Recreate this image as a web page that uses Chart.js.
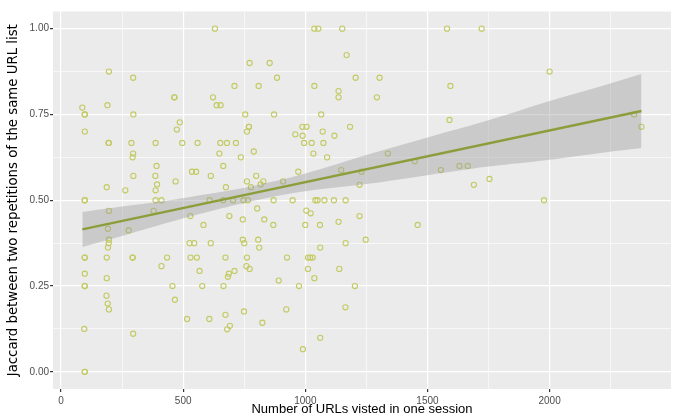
<!DOCTYPE html>
<html>
<head>
<meta charset="utf-8">
<title>URLs per session vs Jaccard</title>
<script src="https://cdn.jsdelivr.net/npm/chart.js@4/dist/chart.umd.min.js"></script>
<style>
  html, body { margin: 0; padding: 0; background: #fff; }
  #wrap { width: 678px; height: 419px; }
</style>
</head>
<body>
<div id="wrap"><canvas id="chart" width="678" height="419"></canvas></div>
<script>
// Sessions: number of URLs visited and Jaccard between two repetitions of the list
const urlCounts = [
  97, 97, 87, 196, 295, 190, 296, 97, 195, 195, 288, 387, 295, 293, 391, 296,
  386, 393, 187, 263, 387, 97, 97, 387, 411, 196, 379, 192, 277, 196, 195, 192,
  97, 97, 187, 293, 293, 411, 97, 187, 97, 97, 186, 191, 196, 95, 295, 97, 97,
  630, 772, 710, 809, 464, 464, 622, 637, 653, 754, 486, 474, 769, 769, 761,
  496, 559, 652, 679, 716, 648, 789, 736, 664, 536, 553, 469, 613, 799, 761,
  675, 777, 817, 828, 608, 664, 704, 747, 765, 803, 529, 689, 583, 744, 832,
  526, 545, 613, 744, 750, 807, 811, 434, 530, 556, 673, 761, 567, 687, 683,
  710, 759, 772, 456, 578, 665, 466, 516, 607, 673, 749, 691, 680, 824,
  1037, 1053, 1151, 1169, 854, 884, 1037, 1206, 1136, 1136, 872, 1065, 988,
  1005, 1183, 1071, 959, 989, 1119, 995, 1026, 1074, 1033, 1089, 971, 1147,
  1230, 909, 1222, 870, 948, 1041, 1050, 1078, 1117, 1165, 1004, 1022, 869,
  1000, 1060, 1136, 1222, 1247, 1061, 1165, 925, 1011, 1020, 1030, 1011, 1037,
  1139, 891, 974, 1203, 922, 1164, 1061, 990,
  1580, 1722, 1304, 1293, 1594, 1590, 1338, 1448, 1555, 1631, 1665, 1690, 1754,
  1460, 2000, 2346, 2376, 1977
];
const jaccard = [
  0.75, 0.75, 0.77, 0.875, 0.857, 0.777, 0.75, 0.70, 0.667, 0.667, 0.667, 0.667, 0.636, 0.625, 0.60, 0.571,
  0.571, 0.546, 0.538, 0.529, 0.529, 0.5, 0.5, 0.5, 0.5, 0.469, 0.469, 0.417, 0.412, 0.385, 0.375, 0.362,
  0.333, 0.333, 0.333, 0.333, 0.333, 0.308, 0.286, 0.273, 0.25, 0.25, 0.222, 0.199, 0.182, 0.125, 0.111, 0, 0,
  1.0, 0.90, 0.833, 0.833, 0.80, 0.80, 0.80, 0.777, 0.777, 0.75, 0.727, 0.706, 0.714, 0.714, 0.70,
  0.667, 0.667, 0.667, 0.667, 0.667, 0.636, 0.642, 0.625, 0.60, 0.583, 0.583, 0.555, 0.571, 0.571, 0.555,
  0.538, 0.538, 0.546, 0.555, 0.5, 0.5, 0.5, 0.5, 0.5, 0.476, 0.454, 0.454, 0.428, 0.444, 0.444,
  0.375, 0.375, 0.375, 0.385, 0.375, 0.385, 0.362, 0.333, 0.333, 0.333, 0.333, 0.333, 0.294, 0.286, 0.277,
  0.294, 0.308, 0.30, 0.25, 0.25, 0.25, 0.21, 0.154, 0.154, 0.166, 0.176, 0.134, 0.124, 0.143,
  1.0, 1.0, 1.0, 0.923, 0.90, 0.857, 0.833, 0.857, 0.818, 0.80, 0.75, 0.75, 0.714,
  0.714, 0.714, 0.70, 0.692, 0.688, 0.688, 0.667, 0.667, 0.667, 0.636, 0.625, 0.583, 0.588,
  0.583, 0.555, 0.545, 0.5, 0.5, 0.5, 0.5, 0.5, 0.5, 0.5, 0.470, 0.462, 0.428,
  0.428, 0.428, 0.437, 0.454, 0.385, 0.362, 0.375, 0.333, 0.333, 0.333, 0.333, 0.30, 0.273,
  0.30, 0.266, 0.25, 0.25, 0.182, 0.188, 0.099, 0.066,
  1.0, 1.0, 0.857, 0.80, 0.833, 0.734, 0.636, 0.614, 0.588, 0.60, 0.60, 0.545, 0.562,
  0.428, 0.875, 0.75, 0.714, 0.5
];

// Linear fit and its confidence band
const fitX = [87, 2376];
const fitY = [0.415, 0.760];
const bandX = [87, 250, 417, 600, 800, 1000, 1250, 1500, 1750, 2000, 2200, 2376];
const bandLower = [0.364, 0.396, 0.431, 0.466, 0.500, 0.526, 0.547, 0.573, 0.598, 0.618, 0.637, 0.652];
const bandUpper = [0.466, 0.482, 0.497, 0.518, 0.544, 0.578, 0.632, 0.683, 0.733, 0.789, 0.830, 0.868];

const xTicks = [0, 250, 500, 750, 1000, 1250, 1500, 1750, 2000, 2250];
const yTicks = [0, 0.125, 0.25, 0.375, 0.5, 0.625, 0.75, 0.875, 1];

const POINT_COL = '#c3ca62';
const LINE_COL = '#8c9e3b';
const FONT = '"Liberation Sans", Arial, sans-serif';

const pts = urlCounts.map((x, i) => ({ x, y: jaccard[i] }));
const zip = (xs, ys) => xs.map((x, i) => ({ x, y: ys[i] }));

const isMajorX = v => v % 500 === 0;
const isMajorY = v => Math.abs(v * 4 - Math.round(v * 4)) < 1e-9;

// grey panel behind the plot area
const panelBg = {
  id: 'panelBg',
  beforeDraw(chart) {
    const a = chart.chartArea;
    const ctx = chart.ctx;
    ctx.save();
    ctx.fillStyle = '#ebebeb';
    ctx.fillRect(a.left, a.top, a.right - a.left, a.bottom - a.top);
    ctx.restore();
  }
};

new Chart(document.getElementById('chart'), {
  type: 'scatter',
  data: {
    datasets: [
      {
        label: 'sessions',
        data: pts,
        order: 3,
        pointStyle: 'circle',
        pointRadius: 2.6,
        pointBorderWidth: 1.1,
        pointBackgroundColor: 'rgba(0,0,0,0)',
        pointBorderColor: POINT_COL,
        showLine: false
      },
      {
        label: 'lower',
        data: zip(bandX, bandLower),
        order: 2,
        showLine: true,
        tension: 0.4,
        pointRadius: 0,
        borderWidth: 0,
        borderColor: 'rgba(0,0,0,0)',
        fill: false
      },
      {
        label: 'upper',
        data: zip(bandX, bandUpper),
        order: 2,
        showLine: true,
        tension: 0.4,
        pointRadius: 0,
        borderWidth: 0,
        borderColor: 'rgba(0,0,0,0)',
        backgroundColor: 'rgba(153,153,153,0.4)',
        fill: '-1'
      },
      {
        label: 'fit',
        data: zip(fitX, fitY),
        order: 1,
        showLine: true,
        pointRadius: 0,
        borderWidth: 2.4,
        borderColor: LINE_COL,
        fill: false
      }
    ]
  },
  options: {
    responsive: false,
    animation: false,
    layout: { padding: { top: 11.5, right: 7, left: 0, bottom: 0 } },
    plugins: {
      legend: { display: false },
      tooltip: { enabled: false }
    },
    scales: {
      x: {
        type: 'linear',
        min: -33,
        max: 2497,
        afterBuildTicks: s => { s.ticks = xTicks.map(v => ({ value: v })); },
        afterFit: s => { s.height = 30; },
        border: { display: false },
        grid: {
          color: '#ffffff',
          lineWidth: c => (isMajorX(c.tick.value) ? 1.2 : 0.6),
          tickLength: 3,
          tickColor: c => (isMajorX(c.tick.value) ? '#333333' : 'rgba(0,0,0,0)')
        },
        ticks: {
          autoSkip: false,
          maxRotation: 0,
          padding: 3,
          color: '#4d4d4d',
          font: { family: FONT, size: 10 },
          callback: v => (isMajorX(v) ? String(v) : '')
        },
        title: {
          display: true,
          text: 'Number of URLs visted in one session',
          color: '#000',
          font: { family: FONT, size: 13 },
          padding: { top: 0, bottom: 1.5 }
        }
      },
      y: {
        type: 'linear',
        min: -0.05,
        max: 1.05,
        afterBuildTicks: s => { s.ticks = yTicks.map(v => ({ value: v })); },
        afterFit: s => { s.width = 53; },
        border: { display: false },
        grid: {
          color: '#ffffff',
          lineWidth: c => (isMajorY(c.tick.value) ? 1.2 : 0.6),
          tickLength: 3,
          tickColor: c => (isMajorY(c.tick.value) ? '#333333' : 'rgba(0,0,0,0)')
        },
        ticks: {
          autoSkip: false,
          padding: 1,
          color: '#4d4d4d',
          font: { family: FONT, size: 10 },
          callback: v => (isMajorY(v) ? v.toFixed(2) : '')
        },
        title: {
          display: true,
          text: 'Jaccard between two repetitions of the same URL list',
          color: '#000',
          font: { family: '"DejaVu Sans", sans-serif', size: 13.3 },
          padding: { top: 6, bottom: 0 }
        }
      }
    }
  },
  plugins: [panelBg]
});
</script>
</body>
</html>
